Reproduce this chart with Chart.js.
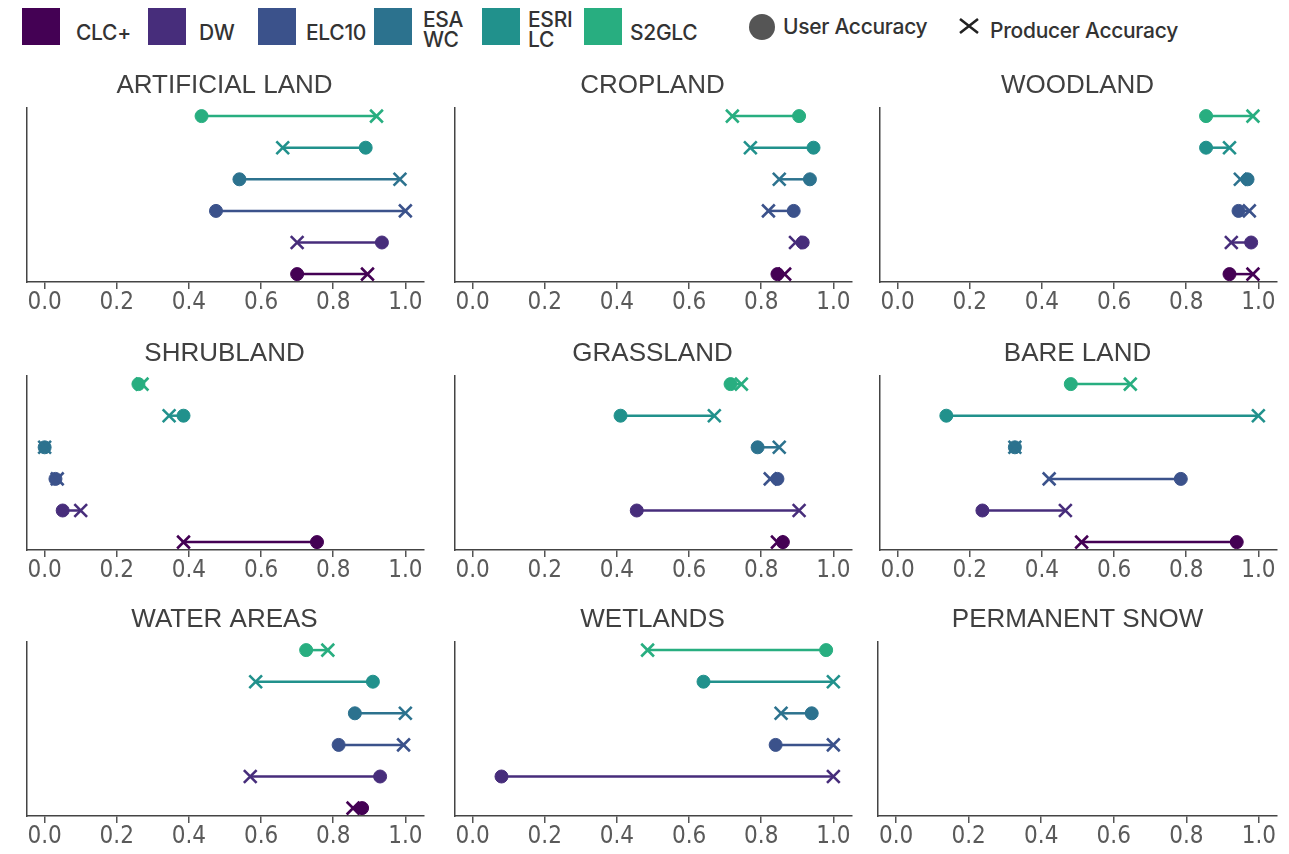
<!DOCTYPE html>
<html>
<head>
<meta charset="utf-8">
<script src="https://cdn.jsdelivr.net/npm/chart.js@4.4.1/dist/chart.umd.min.js"></script>
<style>
  body { margin: 0; background: #fff; width: 1289px; height: 854px; position: relative; overflow: hidden; font-family: Inter, "Open Sans", sans-serif; }
  .sw { position: absolute; top: 8px; width: 38px; height: 37px; }
  .lab { position: absolute; font-size: 21px; font-weight: 500; color: #333; line-height: 20px; letter-spacing: -0.3px; white-space: nowrap; }
  canvas { position: absolute; }
</style>
</head>
<body>
<div id="legend"></div>
<script>
// land cover products, bottom row first
const products = ['CLC+', 'DW', 'ELC10', 'ESA WC', 'ESRI LC', 'S2GLC'];
const colors = ['#440154', '#472d7b', '#3b528b', '#2c728e', '#21918c', '#28ae80'];
const tickVals = [0, 0.2, 0.4, 0.6, 0.8, 1.0];

// user accuracy (circle) / producer accuracy (x), per product
const artificialUA = [0.70, 0.935, 0.475, 0.54, 0.89, 0.435];
const artificialPA = [0.895, 0.70, 1.0, 0.985, 0.66, 0.92];
const croplandUA = [0.845, 0.915, 0.89, 0.935, 0.945, 0.905];
const croplandPA = [0.865, 0.895, 0.82, 0.85, 0.77, 0.72];
const woodlandUA = [0.92, 0.98, 0.945, 0.97, 0.855, 0.855];
const woodlandPA = [0.985, 0.925, 0.975, 0.95, 0.92, 0.985];
const shrublandUA = [0.755, 0.05, 0.03, 0.0, 0.385, 0.26];
const shrublandPA = [0.385, 0.10, 0.035, 0.0, 0.345, 0.27];
const grasslandUA = [0.86, 0.455, 0.845, 0.79, 0.41, 0.715];
const grasslandPA = [0.845, 0.905, 0.825, 0.85, 0.67, 0.745];
const bareUA = [0.94, 0.235, 0.785, 0.325, 0.135, 0.48];
const barePA = [0.51, 0.465, 0.42, 0.325, 1.0, 0.645];
const waterUA = [0.88, 0.93, 0.815, 0.86, 0.91, 0.725];
const waterPA = [0.855, 0.57, 0.995, 1.0, 0.585, 0.785];
const wetlandsUA = [null, 0.08, 0.84, 0.94, 0.64, 0.98];
const wetlandsPA = [null, 1.0, 1.0, 0.855, 1.0, 0.485];
const snowUA = [null, null, null, null, null, null];
const snowPA = [null, null, null, null, null, null];

const panels = [
  {title: 'ARTIFICIAL LAND', ua: artificialUA, pa: artificialPA},
  {title: 'CROPLAND', ua: croplandUA, pa: croplandPA},
  {title: 'WOODLAND', ua: woodlandUA, pa: woodlandPA},
  {title: 'SHRUBLAND', ua: shrublandUA, pa: shrublandPA},
  {title: 'GRASSLAND', ua: grasslandUA, pa: grasslandPA},
  {title: 'BARE LAND', ua: bareUA, pa: barePA},
  {title: 'WATER AREAS', ua: waterUA, pa: waterPA},
  {title: 'WETLANDS', ua: wetlandsUA, pa: wetlandsPA},
  {title: 'PERMANENT SNOW', ua: snowUA, pa: snowPA}
];

// legend
const legend = document.getElementById('legend');
const swLeft = [22, 148, 258, 374, 482, 584];
const labLeft = [76, 199, 306, 423, 528, 630];
products.forEach((name, i) => {
  const sw = document.createElement('div');
  sw.className = 'sw';
  sw.style.left = swLeft[i] + 'px';
  sw.style.background = colors[i];
  legend.appendChild(sw);
  const lab = document.createElement('div');
  lab.className = 'lab';
  lab.style.left = labLeft[i] + 'px';
  const parts = name.split(' ');
  lab.innerHTML = parts.join('<br>');
  lab.style.top = parts.length > 1 ? '10px' : '23px';
  legend.appendChild(lab);
});
legend.insertAdjacentHTML('beforeend',
  '<div style="position:absolute;left:749px;top:14px;width:26px;height:26px;border-radius:50%;background:#555"></div>' +
  '<div class="lab" style="left:783px;top:17px">User Accuracy</div>' +
  '<svg style="position:absolute;left:958px;top:17px" width="22" height="18"><path d="M2 2 L20 16 M20 2 L2 16" stroke="#222" stroke-width="2.6" fill="none"/></svg>' +
  '<div class="lab" style="left:990px;top:21px">Producer Accuracy</div>');

Chart.defaults.font.family = '"Liberation Sans", Arial, sans-serif';

const colLeft = [15, 443, 868];
const rowTop = [63, 331, 597];

panels.forEach((p, k) => {
  const cv = document.createElement('canvas');
  cv.width = 420;
  cv.height = 254;
  cv.style.left = colLeft[k % 3] + 'px';
  cv.style.top = rowTop[Math.floor(k / 3)] + 'px';
  document.body.appendChild(cv);

  const datasets = products.map((name, i) => ({
    label: name,
    data: p.ua[i] == null ? [] : [{x: p.ua[i], y: i}, {x: p.pa[i], y: i}],
    showLine: true,
    borderColor: colors[i],
    backgroundColor: colors[i],
    borderWidth: 2.5,
    pointStyle: ['circle', 'crossRot'],
    pointRadius: [6.5, 9],
    pointBorderWidth: [1, 2.6],
    pointBackgroundColor: colors[i],
    pointBorderColor: colors[i],
    clip: false
  }));

  new Chart(cv, {
    type: 'scatter',
    data: {datasets},
    options: {
      responsive: false,
      animation: false,
      events: [],
      layout: {padding: {left: 10, right: 11, top: 0, bottom: 0}},
      plugins: {
        legend: {display: false},
        tooltip: {enabled: false},
        title: {
          display: true,
          text: p.title,
          color: '#404040',
          font: {size: 26, weight: 'normal', lineHeight: 1.2},
          padding: {top: 7, bottom: 7}
        }
      },
      scales: {
        x: {
          min: -0.05,
          max: 1.05,
          afterBuildTicks: s => { s.ticks = tickVals.map(v => ({value: v})); },
          grid: {display: true, drawOnChartArea: false, drawTicks: true, tickLength: 7, color: '#555', lineWidth: 1.5},
          border: {display: true, color: '#444', width: 1.5},
          ticks: {
            color: '#5a5a5a',
            padding: 2,
            maxRotation: 0,
            autoSkip: false,
            font: {family: '"Liberation Sans Narrow", "DejaVu Sans Condensed", sans-serif', size: 24, lineHeight: 1},
            callback: v => v.toFixed(1)
          }
        },
        y: {
          min: -0.25,
          max: 5.25,
          grid: {display: false, drawTicks: false},
          border: {display: true, color: '#444', width: 1.5},
          ticks: {display: false}
        }
      }
    }
  });
});
</script>
</body>
</html>
